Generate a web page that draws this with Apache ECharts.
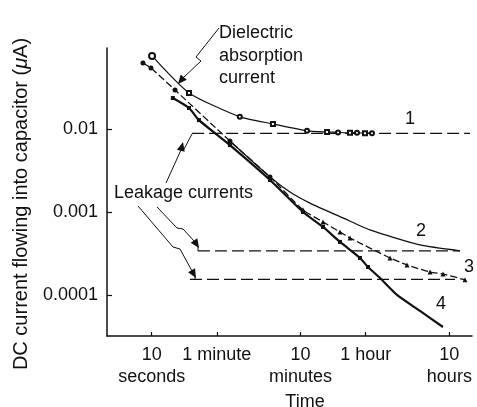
<!DOCTYPE html>
<html>
<head>
<meta charset="utf-8">
<script src="https://cdn.jsdelivr.net/npm/echarts@6/dist/echarts.min.js"></script>
<style>
html,body{margin:0;padding:0;background:#fff;}
#chart{width:477px;height:407px;}
</style>
</head>
<body>
<div id="chart"></div>
<script>
// ---- data (time in seconds, current in microamps) ----
const xTickValues = [10, 60, 600, 3600, 36000];
const xTickLabels = ['10\nseconds', '1 minute', '10\nminutes', '1 hour', '10\nhours'];
const yTickValues = [0.0001, 0.001, 0.01];
const yTickLabels = ['0.0001', '0.001', '0.01'];

const curve1T = [10.1, 27.9, 113, 281, 717, 1244, 1683, 2340, 2837, 3535, 4285];
const curve1I = [0.0759, 0.0272, 0.0140, 0.0115, 0.0095, 0.0092, 0.0091, 0.0090, 0.0090, 0.0089, 0.0089];

const curve2T = [86, 259, 449, 778, 1932, 4055, 16060, 48300];
const curve2I = [0.00716, 0.00264, 0.00174, 0.00128, 0.000847, 0.000607, 0.0004, 0.00034];

const curve3T = [7.87, 9.81, 19.0, 86, 259, 642, 1114, 1778, 2340, 7031, 11220, 21150, 30200, 55300];
const curve3I = [0.0624, 0.0543, 0.0295, 0.00716, 0.00264, 0.00106, 0.000758, 0.000574, 0.000486, 0.000279, 0.00023, 0.000189, 0.000179, 0.000152];

const curve4T = [17.9, 27.9, 36.7, 86, 259, 642, 1114, 1778, 3083, 3837, 5346, 8531, 16060, 30200];
const curve4I = [0.0236, 0.0179, 0.0128, 0.0064, 0.00243, 0.0010, 0.000660, 0.000435, 0.000279, 0.000217, 0.00016, 0.0001, 0.0000641, 0.0000411];

const leak1T = [30.4, 63500];
const leak1I = [0.00883, 0.00883];
const leak2T = [35.7, 48300];
const leak2I = [0.000339, 0.000339];
const leak3T = [28.7, 42100];
const leak3I = [0.000154, 0.000154];

// ---- build ----
const zip = (t, v) => t.map((x, i) => [x, v[i]]);
const FONT = 'Liberation Sans, Arial, Helvetica, sans-serif';
const INK = '#111';

function labelFor(values, labels, v) {
  for (let i = 0; i < values.length; i++) {
    if (Math.abs(Math.log10(values[i]) - Math.log10(v)) < 0.02) return labels[i];
  }
  return '';
}
// labels are split over two overlaid axes so that neighbours never collide
const xLabelsA = xTickValues.filter((v, i) => i % 2 === 0);
const xLabelsB = xTickValues.filter((v, i) => i % 2 === 1);

function arrowHead(tip, from, len, half) {
  const dx = tip[0] - from[0], dy = tip[1] - from[1];
  const d = Math.hypot(dx, dy);
  const ux = dx / d, uy = dy / d;
  const bx = tip[0] - ux * len, by = tip[1] - uy * len;
  return {
    type: 'polygon',
    shape: { points: [tip, [bx - uy * half, by + ux * half], [bx + uy * half, by - ux * half]] },
    style: { fill: INK },
    z: 10
  };
}
function poly(points, w) {
  return { type: 'polyline', shape: { points: points }, style: { stroke: INK, lineWidth: w || 1, fill: null }, z: 10 };
}
function txt(x, y, text, extra) {
  return Object.assign({
    type: 'text', x: x, y: y,
    style: Object.assign({ text: text, font: '18px ' + FONT, fill: INK, align: 'center', verticalAlign: 'middle' }, extra || {}),
    z: 10
  });
}

const dielShaft = [[219, 28], [196, 57], [201, 61], [183, 78]];
const leakShaft1 = [[166, 183], [181, 150]];
const leakShaft2 = [[157, 207], [177, 228], [183, 229], [195, 242]];
const leakShaft3 = [[138, 206], [173, 247], [180, 249], [192, 271]];

const xLabelStyle = { fontFamily: FONT, fontSize: 18, color: INK, lineHeight: 22, margin: 8,
  showMinLabel: true, showMaxLabel: true, hideOverlap: false,
  formatter: v => labelFor(xTickValues, xTickLabels, v) };

const chart = echarts.init(document.getElementById('chart'));
chart.setOption({
  backgroundColor: '#fff',
  animation: false,
  grid: { left: 107, top: 48, right: 5, bottom: 71, containLabel: false, outerBoundsMode: 'none' },
  xAxis: [{
    type: 'log',
    position: 'bottom',
    min: 2.925,
    max: 67100,
    name: 'Time',
    nameLocation: 'middle',
    nameGap: 55,
    nameTextStyle: { fontFamily: FONT, fontSize: 18, color: INK, padding: [0, 0, 0, 31] },
    axisLine: { lineStyle: { color: INK, width: 1.5 } },
    axisTick: { inside: true, length: 4, customValues: xTickValues, lineStyle: { color: INK, width: 1.2 } },
    minorTick: { show: false },
    splitLine: { show: false },
    axisLabel: Object.assign({ customValues: xLabelsA }, xLabelStyle)
  }, {
    type: 'log',
    position: 'bottom',
    offset: 0,
    min: 2.925,
    max: 67100,
    axisLine: { show: false },
    axisTick: { show: false },
    minorTick: { show: false },
    splitLine: { show: false },
    axisLabel: Object.assign({ customValues: xLabelsB }, xLabelStyle)
  }],
  yAxis: {
    type: 'log',
    min: 3.2e-5,
    max: 0.0946,
    name: '{a|DC current flowing into capacitor (}{i|μ}{a|A)}',
    nameLocation: 'middle',
    nameGap: 76,
    nameTextStyle: {
      padding: [0, 24, 0, 0],
      rich: {
        a: { fontFamily: FONT, fontSize: 20, color: INK },
        i: { fontFamily: FONT, fontSize: 20, color: INK, fontStyle: 'italic' }
      }
    },
    axisLine: { lineStyle: { color: INK, width: 1.5 } },
    axisTick: { inside: true, length: 5, customValues: yTickValues, lineStyle: { color: INK, width: 1.2 } },
    minorTick: { show: false },
    splitLine: { show: false },
    axisLabel: {
      customValues: yTickValues,
      showMinLabel: true, showMaxLabel: true, hideOverlap: false,
      formatter: v => labelFor(yTickValues, yTickLabels, v),
      fontFamily: FONT, fontSize: 18, color: INK, margin: 9
    }
  },
  series: [
    {
      name: '1', type: 'line', data: zip(curve1T, curve1I), smooth: 0.2,
      symbol: (v, p) => (p.dataIndex % 2 ? 'emptyRect' : 'emptyCircle'),
      symbolSize: (v, p) => (p.dataIndex === 0 ? 6 : 4),
      lineStyle: { color: INK, width: 1.2 }, itemStyle: { color: INK, borderColor: INK, borderWidth: 1 }
    },
    {
      name: '2', type: 'line', data: zip(curve2T, curve2I), smooth: 0.2,
      symbol: 'none',
      lineStyle: { color: INK, width: 1.3 }
    },
    {
      name: '3', type: 'line', data: zip(curve3T, curve3I), smooth: 0.2,
      symbol: (v) => (v[0] > 500 ? 'triangle' : 'circle'), symbolSize: 5,
      lineStyle: { color: INK, width: 1.3, type: [7, 3] }, itemStyle: { color: INK }
    },
    {
      name: '4', type: 'line', data: zip(curve4T, curve4I), smooth: 0.2,
      symbol: (v) => (v[0] < 5000 ? 'rect' : 'none'), symbolSize: 4,
      lineStyle: { color: INK, width: 2.2 }, itemStyle: { color: INK }
    },
    {
      name: 'leak1', type: 'line', data: zip(leak1T, leak1I), symbol: 'none',
      lineStyle: { color: INK, width: 1.3, type: [12, 5] }
    },
    {
      name: 'leak2', type: 'line', data: zip(leak2T, leak2I), symbol: 'none',
      lineStyle: { color: INK, width: 1.3, type: [12, 5] }
    },
    {
      name: 'leak3', type: 'line', data: zip(leak3T, leak3I), symbol: 'none',
      lineStyle: { color: INK, width: 1.3, type: [12, 5] }
    }
  ],
  graphic: [
    txt(219, 22, 'Dielectric\nabsorption\ncurrent', { align: 'left', verticalAlign: 'top', lineHeight: 22.5 }),
    txt(114, 193, 'Leakage currents', { align: 'left' }),
    txt(410, 119, '1'), txt(421, 231, '2'), txt(469, 267, '3'), txt(441, 304, '4'),
    poly(dielShaft, 1), arrowHead([178, 84], dielShaft[dielShaft.length - 1], 9, 4),
    poly(leakShaft1, 1), arrowHead([183, 142], leakShaft1[1], 9, 4), poly([[183, 151], [192, 134]], 1),
    poly(leakShaft2, 1), arrowHead([199, 248], leakShaft2[3], 9, 4), poly([[198, 246], [198, 251]], 1),
    poly(leakShaft3, 1), arrowHead([196, 278], leakShaft3[3], 9, 4), poly([[195, 276], [195, 280]], 1)
  ]
});
</script>
</body>
</html>
